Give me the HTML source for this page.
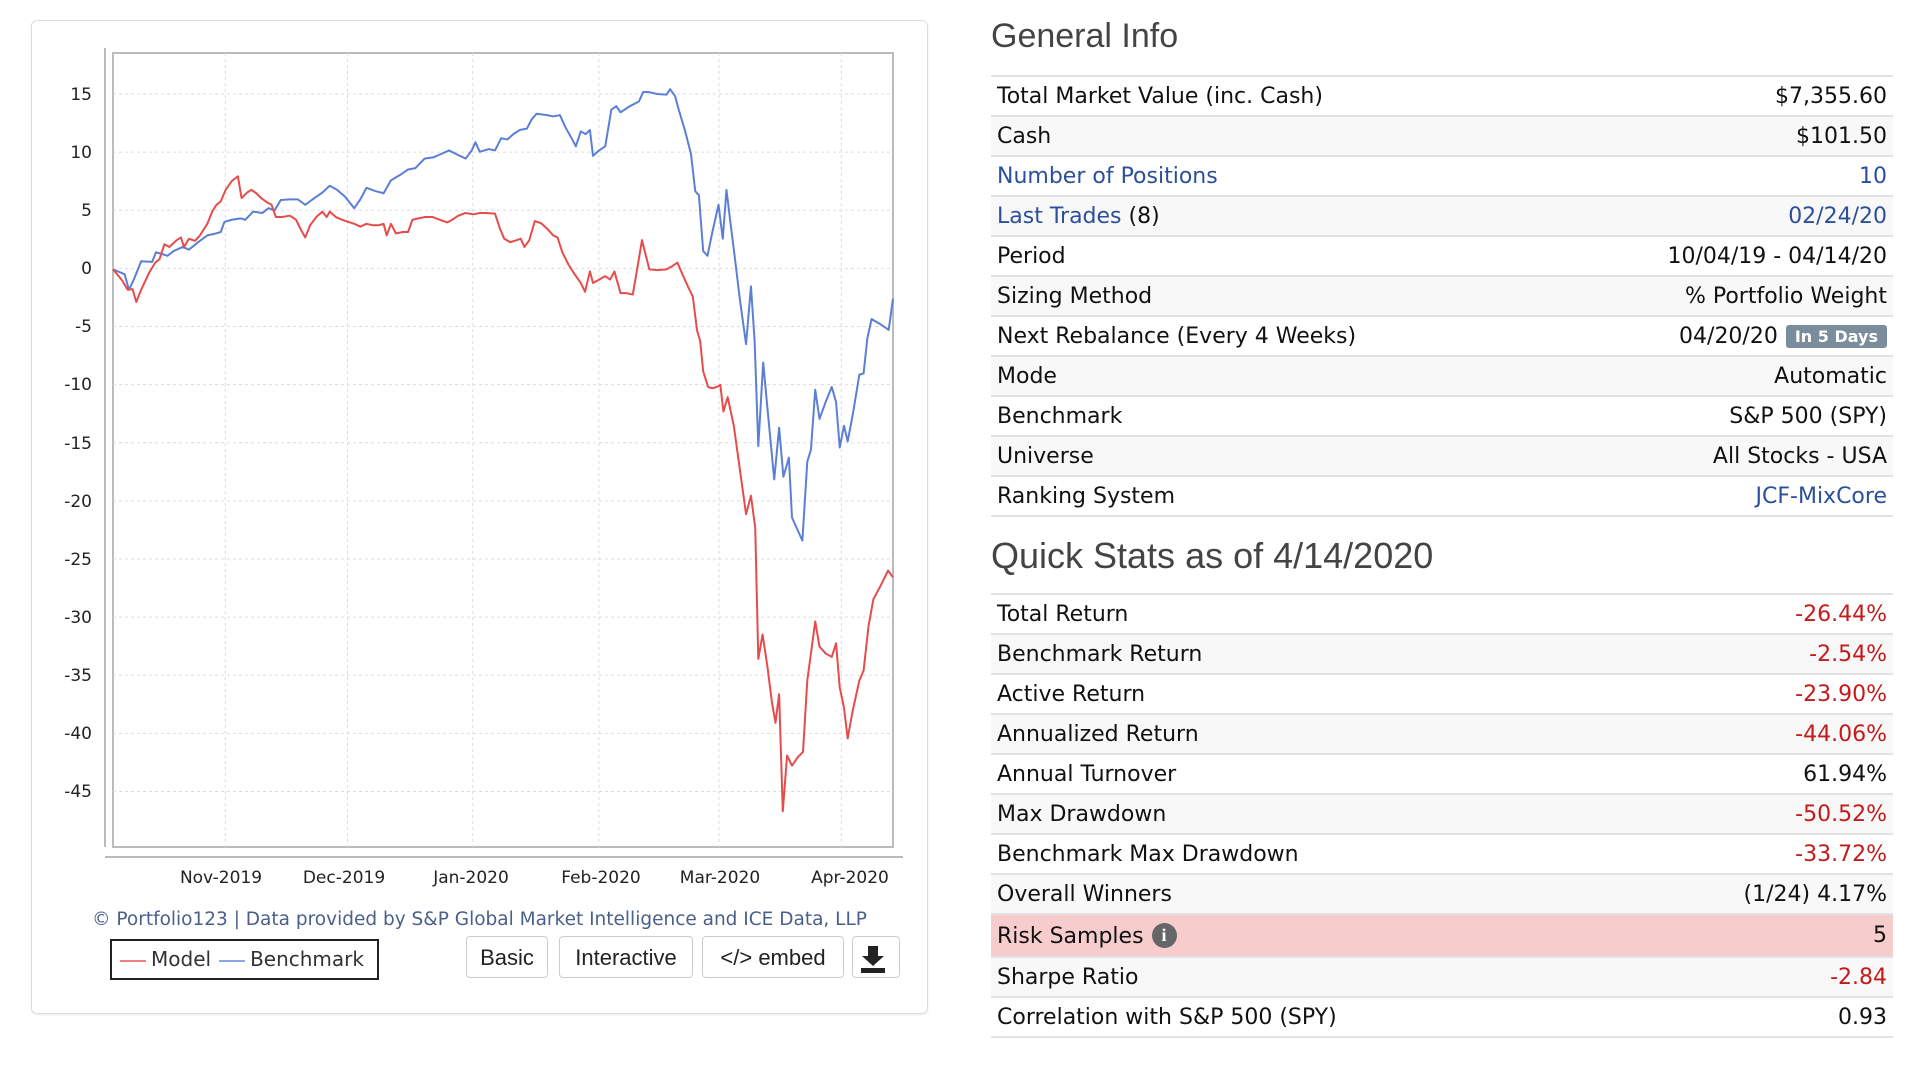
<!DOCTYPE html>
<html><head><meta charset="utf-8"><style>
body{margin:0;width:1924px;height:1066px;background:#fff;position:relative;overflow:hidden;font-family:"DejaVu Sans","Liberation Sans",sans-serif}
.panel{position:absolute;left:31px;top:20px;width:895px;height:992px;border:1px solid #ddd;border-radius:6px;box-shadow:0 1px 2px rgba(0,0,0,.08)}
.foot{position:absolute;left:31px;width:897px;top:909px;text-align:center;font:18.5px "DejaVu Sans",sans-serif;color:#4a5f8a;white-space:nowrap}
.legend{position:absolute;left:110px;top:939px;width:265px;height:37px;border:2px solid #222;font:20px "DejaVu Sans",sans-serif;color:#333;line-height:37px;white-space:nowrap}
.legend i{display:inline-block;width:26px;height:2px;vertical-align:middle;margin:0 5px 0 8px}
.btn{position:absolute;top:936px;height:42px;border:1px solid #ccc;border-radius:4px;font:22px "Liberation Sans",sans-serif;color:#222;text-align:center;line-height:42px;box-sizing:border-box}
h2{position:absolute;left:993px;margin:0;font:normal 34px "Liberation Sans",sans-serif;color:#444}
table{position:absolute;left:991px;width:902px;border-collapse:collapse;font-size:22px;color:#111}
td{height:38px;border-top:2px solid #e2e2e2;padding:0 6px;white-space:nowrap}
tr:last-child td{border-bottom:2px solid #e2e2e2}
tr:nth-child(even) td{background:#f8f8f8}
td.r{text-align:right}
.b{color:#2b4f9b}.red{color:#c41a1a}
.badge{display:inline-block;background:#7b8d9c;color:#fff;font-size:16px;font-weight:bold;padding:2px 9px;border-radius:3px;vertical-align:middle;margin-left:8px}
tr.risk td{background:#f6cccc!important;height:41px}
.info{display:inline-block;width:25px;height:25px;border-radius:13px;background:#666;color:#fff;font:bold 18px "Liberation Serif",serif;text-align:center;line-height:25px;vertical-align:2px;margin-left:8px}
</style></head><body>
<div class="panel"></div>
<svg width="1924" height="1066" style="position:absolute;left:0;top:0">
<rect x="113" y="53" width="780" height="794" fill="#fff" stroke="#bbb" stroke-width="2"/>
<g stroke="#ddd" stroke-dasharray="3,3" stroke-width="1">
<line x1="225.3" y1="53" x2="225.3" y2="847"/><line x1="347.5" y1="53" x2="347.5" y2="847"/><line x1="472.7" y1="53" x2="472.7" y2="847"/><line x1="598.9" y1="53" x2="598.9" y2="847"/><line x1="719.1" y1="53" x2="719.1" y2="847"/><line x1="841.3" y1="53" x2="841.3" y2="847"/>
<line x1="113" y1="94" x2="893" y2="94"/><line x1="113" y1="152.1" x2="893" y2="152.1"/><line x1="113" y1="210.3" x2="893" y2="210.3"/><line x1="113" y1="268.4" x2="893" y2="268.4"/><line x1="113" y1="326.5" x2="893" y2="326.5"/><line x1="113" y1="384.6" x2="893" y2="384.6"/><line x1="113" y1="442.8" x2="893" y2="442.8"/><line x1="113" y1="500.9" x2="893" y2="500.9"/><line x1="113" y1="559" x2="893" y2="559"/><line x1="113" y1="617.1" x2="893" y2="617.1"/><line x1="113" y1="675.3" x2="893" y2="675.3"/><line x1="113" y1="733.4" x2="893" y2="733.4"/><line x1="113" y1="791.5" x2="893" y2="791.5"/>
</g>
<line x1="105" y1="48" x2="105" y2="847" stroke="#bbb" stroke-width="2"/>
<line x1="105" y1="857" x2="903" y2="857" stroke="#bbb" stroke-width="2"/>
<g font-family="DejaVu Sans" font-size="17" fill="#222" text-anchor="end">
<text x="92" y="100">15</text><text x="92" y="158">10</text><text x="92" y="216">5</text><text x="92" y="274">0</text><text x="92" y="332">-5</text><text x="92" y="390">-10</text><text x="92" y="449">-15</text><text x="92" y="507">-20</text><text x="92" y="565">-25</text><text x="92" y="623">-30</text><text x="92" y="681">-35</text><text x="92" y="739">-40</text><text x="92" y="797">-45</text>
</g>
<g font-family="DejaVu Sans" font-size="17" fill="#222" text-anchor="middle">
<text x="221" y="883">Nov-2019</text><text x="344" y="883">Dec-2019</text><text x="471" y="883">Jan-2020</text><text x="601" y="883">Feb-2020</text><text x="720" y="883">Mar-2020</text><text x="850" y="883">Apr-2020</text>
</g>
<g transform="translate(113,94) scale(0.61224,0.6798) translate(-186,-137)" fill="none" stroke-width="2" stroke-linejoin="round">
<polyline vector-effect="non-scaling-stroke" stroke="#5b7fd6" points="186,395 205,402 212,425 220,410 232,383 250,384 256,370 265,372 275,375 285,368 300,362 310,366 325,355 340,345 355,342 362,340 368,325 380,322 395,320 402,322 415,310 430,312 440,305 450,308 460,293 475,292 488,292 500,300 512,292 528,282 540,272 552,278 565,288 580,305 590,292 600,275 615,280 628,283 640,264 655,256 668,248 680,246 695,232 710,230 720,226 735,220 748,226 762,232 772,220 778,208 785,222 800,218 810,220 820,202 830,204 840,196 850,190 862,188 870,174 878,166 895,168 905,170 916,168 925,186 935,202 942,214 950,192 958,196 965,190 970,228 980,220 990,214 1000,160 1008,155 1015,164 1030,155 1045,148 1052,134 1060,134 1075,137 1090,138 1096,130 1104,140 1110,160 1120,190 1130,225 1137,280 1143,286 1150,368 1157,375 1165,340 1175,300 1182,350 1188,278 1195,330 1202,380 1210,440 1220,505 1228,420 1234,500 1240,655 1248,532 1255,600 1266,704 1274,628 1281,700 1290,672 1295,760 1305,780 1312,794 1320,678 1326,660 1333,572 1340,615 1350,590 1360,568 1367,590 1373,657 1380,625 1386,648 1395,605 1405,550 1412,548 1418,497 1425,468 1440,476 1453,484 1460,438"/>
<polyline vector-effect="non-scaling-stroke" stroke="#e64c4c" points="186,395 200,410 210,425 218,424 224,443 232,425 245,400 255,385 262,380 270,358 278,362 290,352 297,348 302,362 310,350 320,353 328,345 340,328 348,310 355,300 362,295 370,278 380,265 390,258 396,290 405,282 412,278 420,283 428,290 437,296 445,300 452,318 462,318 475,316 485,322 492,335 500,348 508,330 518,318 528,310 535,318 540,310 550,318 560,322 570,325 580,328 590,332 600,328 610,330 620,330 628,328 633,345 640,328 648,342 660,340 668,340 675,322 685,320 695,318 708,318 720,322 732,326 740,322 750,316 762,312 775,314 785,312 795,312 810,313 818,335 825,350 835,355 845,352 852,350 858,362 866,352 875,324 885,327 895,335 905,345 912,348 920,370 930,388 940,402 950,415 957,428 965,398 970,415 980,410 990,405 998,410 1005,398 1015,430 1025,430 1035,432 1043,390 1050,352 1062,395 1075,396 1090,395 1100,390 1108,385 1115,400 1125,420 1133,435 1140,485 1145,500 1150,545 1158,568 1165,570 1172,568 1178,565 1183,604 1190,583 1200,625 1210,690 1220,755 1228,728 1235,775 1240,968 1247,932 1255,980 1262,1030 1268,1062 1274,1020 1280,1192 1287,1110 1295,1125 1305,1112 1313,1105 1320,1000 1333,913 1340,950 1350,960 1360,965 1367,945 1373,1010 1380,1040 1386,1085 1394,1045 1405,1000 1412,985 1420,920 1428,880 1440,860 1452,838 1460,848"/>
</g>
<g transform="translate(873,946)" fill="#222"><rect x="-5" y="0" width="10" height="11"/><polygon points="-11,10 11,10 0,20"/><rect x="-12" y="22" width="24" height="5"/></g>
</svg>
<div class="foot">© Portfolio123 | Data provided by S&amp;P Global Market Intelligence and ICE Data, LLP</div>
<div class="legend"><i style="background:#f08080"></i>Model<i style="background:#8aa6e6"></i>Benchmark</div>
<div class="btn" style="left:466px;width:82px">Basic</div>
<div class="btn" style="left:559px;width:134px">Interactive</div>
<div class="btn" style="left:702px;width:142px">&lt;/&gt; embed</div>
<div class="btn" style="left:852px;width:48px"></div>
<h2 style="top:17px;left:991px">General Info</h2>
<table style="top:75px">
<tr><td>Total Market Value (inc. Cash)</td><td class="r">$7,355.60</td></tr>
<tr><td>Cash</td><td class="r">$101.50</td></tr>
<tr><td class="b">Number of Positions</td><td class="r b">10</td></tr>
<tr><td><span class="b">Last Trades</span> (8)</td><td class="r b">02/24/20</td></tr>
<tr><td>Period</td><td class="r">10/04/19 - 04/14/20</td></tr>
<tr><td>Sizing Method</td><td class="r">% Portfolio Weight</td></tr>
<tr><td>Next Rebalance (Every 4 Weeks)</td><td class="r">04/20/20<span class="badge">In 5 Days</span></td></tr>
<tr><td>Mode</td><td class="r">Automatic</td></tr>
<tr><td>Benchmark</td><td class="r">S&amp;P 500 (SPY)</td></tr>
<tr><td>Universe</td><td class="r">All Stocks - USA</td></tr>
<tr><td>Ranking System</td><td class="r b">JCF-MixCore</td></tr>
</table>
<h2 style="top:535px;left:991px;font-size:36px">Quick Stats as of 4/14/2020</h2>
<table style="top:593px">
<tr><td>Total Return</td><td class="r red">-26.44%</td></tr>
<tr><td>Benchmark Return</td><td class="r red">-2.54%</td></tr>
<tr><td>Active Return</td><td class="r red">-23.90%</td></tr>
<tr><td>Annualized Return</td><td class="r red">-44.06%</td></tr>
<tr><td>Annual Turnover</td><td class="r">61.94%</td></tr>
<tr><td>Max Drawdown</td><td class="r red">-50.52%</td></tr>
<tr><td>Benchmark Max Drawdown</td><td class="r red">-33.72%</td></tr>
<tr><td>Overall Winners</td><td class="r">(1/24) 4.17%</td></tr>
<tr class="risk"><td>Risk Samples<span class="info">i</span></td><td class="r">5</td></tr>
<tr><td>Sharpe Ratio</td><td class="r red">-2.84</td></tr>
<tr><td>Correlation with S&amp;P 500 (SPY)</td><td class="r">0.93</td></tr>
</table>
</body></html>
